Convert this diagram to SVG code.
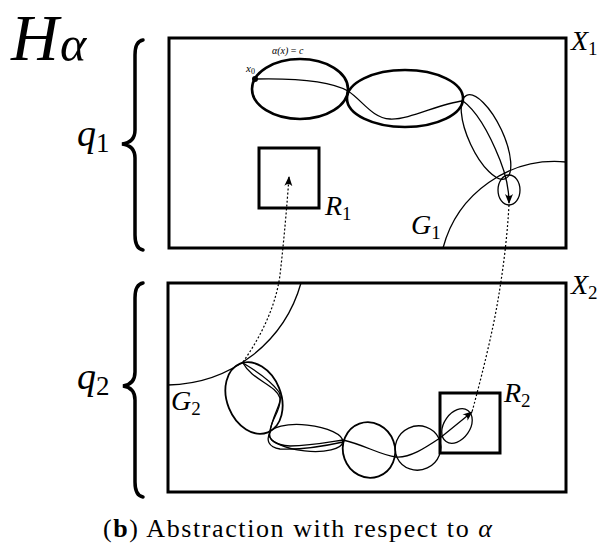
<svg xmlns="http://www.w3.org/2000/svg" width="605" height="552" viewBox="0 0 605 552">
<style>
.frame{fill:none;stroke:#000;stroke-width:3}
.thick{fill:none;stroke:#000;stroke-width:2.6}
.mid{fill:none;stroke:#000;stroke-width:1.8}
.thin{fill:none;stroke:#000;stroke-width:1.3}
.dot{fill:none;stroke:#000;stroke-width:1.2;stroke-dasharray:2 2}
.brace{fill:none;stroke:#000;stroke-width:3.5;stroke-linecap:round}
.lab{font-family:"Liberation Serif","Times New Roman",serif;font-style:italic;fill:#000}
.sub{font-style:normal}
</style>
<defs>
<marker id="ah" markerUnits="userSpaceOnUse" markerWidth="10" markerHeight="10" viewBox="0 0 10 10" refX="9" refY="5" orient="auto">
<path d="M0,1 Q4,5 0,9 L10,5 z" fill="#000"/>
</marker>
</defs>

<g id="title">
<text class="lab" x="11" y="60" font-size="66">H</text>
<text class="lab" x="60" y="61" font-size="50">α</text>
</g>

<g id="q1">
<path class="brace" d="M143,40 C137,41 135,46 135,55 L135,130 C135,139 130,143 122,144 C130,145 135,149 135,158 L135,235 C135,244 137,249 143,250"/>
<text class="lab" x="77" y="146" font-size="38">q<tspan class="sub" font-size="27" dy="6">1</tspan></text>
</g>

<g id="q2">
<path class="brace" d="M143,283 C137,284 135,289 135,298 L135,372 C135,381 130,385 123,386 C130,387 135,391 135,400 L135,482 C135,491 137,496 143,497"/>
<text class="lab" x="77" y="389" font-size="38">q<tspan class="sub" font-size="27" dy="6">2</tspan></text>
</g>

<g id="X1">
<rect class="frame" x="169" y="38" width="397" height="210"/>
<text class="lab" x="571" y="50" font-size="28">X<tspan class="sub" font-size="19" dy="5">1</tspan></text>
</g>

<g id="X2">
<rect class="frame" x="168" y="283" width="398" height="209"/>
<text class="lab" x="571" y="294" font-size="28">X<tspan class="sub" font-size="19" dy="5">2</tspan></text>
</g>

<g id="G1">
<path class="thin" d="M443,248 A116,116 0 0 1 566,162"/>
<text class="lab" x="411" y="234" font-size="28">G<tspan class="sub" font-size="19" dy="5">1</tspan></text>
</g>

<g id="G2">
<path class="thin" d="M168,385 A140,140 0 0 0 301,283"/>
<text class="lab" x="171" y="410" font-size="28">G<tspan class="sub" font-size="19" dy="5">2</tspan></text>
</g>

<g id="R1">
<rect class="frame" x="259" y="148" width="60" height="60"/>
<text class="lab" x="325" y="215" font-size="28">R<tspan class="sub" font-size="19" dy="5">1</tspan></text>
</g>

<g id="R2">
<rect class="frame" x="440" y="393" width="60" height="60"/>
<text class="lab" x="504" y="402" font-size="28">R<tspan class="sub" font-size="19" dy="5">2</tspan></text>
</g>

<g id="top-cover">
<ellipse class="thick" cx="300" cy="89" rx="48" ry="30"/>
<ellipse class="thick" cx="405" cy="98.5" rx="58" ry="28.5"/>
<ellipse class="thin" cx="486" cy="137" rx="46" ry="17" transform="rotate(65 486 137)"/>
<ellipse class="thin" cx="509" cy="190" rx="11" ry="15"/>
<circle cx="255" cy="79" r="3" fill="#000"/>
<text class="lab" x="246" y="72" font-size="11">x<tspan class="sub" font-size="8" dy="2">0</tspan></text>
<text class="lab" x="272" y="54" font-size="10">α(x) <tspan class="sub">=</tspan> c</text>
</g>

<g id="bottom-cover">
<ellipse class="mid" cx="254" cy="398" rx="37" ry="27" transform="rotate(68 254 398)"/>
<ellipse class="thin" cx="306" cy="438" rx="37" ry="13" transform="rotate(6 306 438)"/>
<ellipse class="mid" cx="369" cy="450" rx="26" ry="28" transform="rotate(-20 369 450)"/>
<ellipse class="thin" cx="418" cy="448" rx="23" ry="22" transform="rotate(-25 418 448)"/>
<ellipse class="thin" cx="457" cy="426" rx="19" ry="13" transform="rotate(-55 457 426)"/>
</g>

<g id="connectors">
<path class="thin" d="M255,79 C300,78 332,82 348,91 C362,100 372,118 390,119 C410,120 440,103 463,101 C478,112 490,135 500,160 C506,175 509,188 509,203" marker-end="url(#ah)"/>
<path class="thin" d="M243,363 C258,372 272,382 279,392 C284,402 273,412 270,432 C266,440 268,447 280,449 C300,450 325,446 343,442"/>
<path class="thin" d="M243,363 C252,380 276,385 280,398 C282,410 270,420 270,432 C268,440 275,445 290,446 C310,446 330,442 343,440 C365,445 380,455 396,457 C410,458 425,448 440,438 L472,412" marker-end="url(#ah)"/>
<path class="dot" d="M243,362 C262,335 276,305 280,275 C284,240 287,205 289,177" marker-end="url(#ah)"/>
<path class="dot" d="M509,205 C507,240 503,270 498,300 C492,335 482,375 472,412"/>
</g>

<g id="caption">
<text x="103" y="537" font-family="Liberation Serif, serif" font-size="26" textLength="389" lengthAdjust="spacing">(<tspan font-weight="bold">b</tspan>) Abstraction with respect to <tspan font-style="italic">α</tspan></text>
</g>
</svg>
